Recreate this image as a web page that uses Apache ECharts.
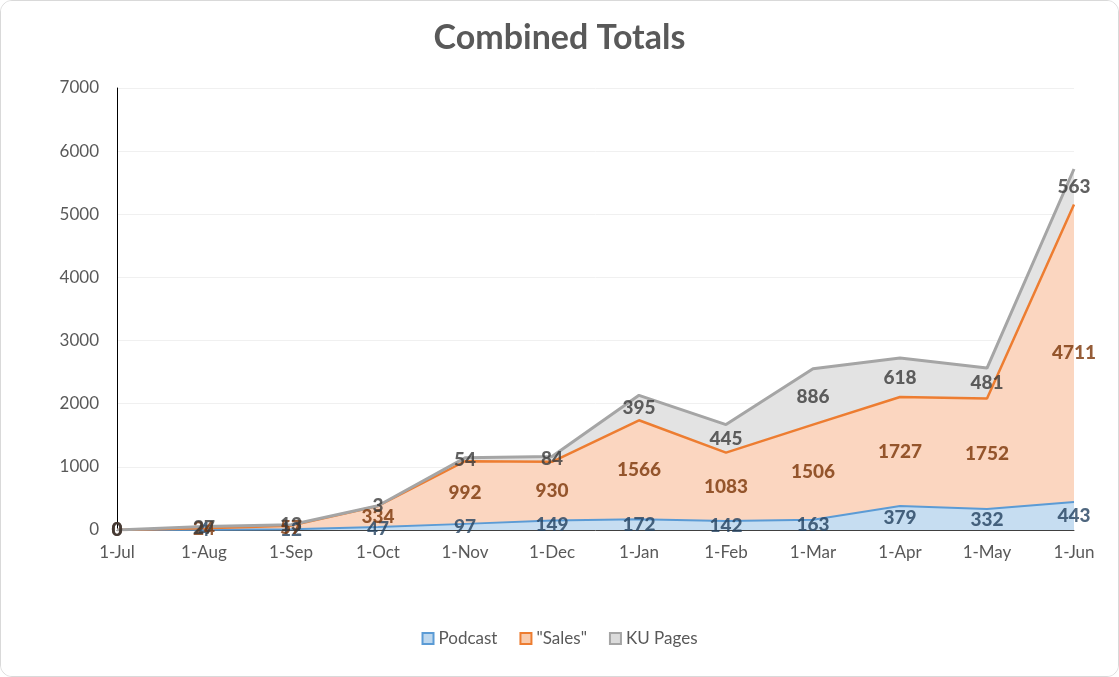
<!DOCTYPE html>
<html>
<head>
<meta charset="utf-8">
<script src="https://cdn.jsdelivr.net/npm/echarts@6/dist/echarts.min.js"></script>
<style>
html,body{margin:0;padding:0;background:#fff;}
#wrap{position:absolute;left:0;top:0;width:1117px;height:675px;border:1px solid #D9D9D9;border-radius:12px;overflow:hidden;}
#chart{width:1117px;height:675px;}
</style>
</head>
<body>
<div id="wrap"><div id="chart"></div></div>
<script>
const categories = ['1-Jul','1-Aug','1-Sep','1-Oct','1-Nov','1-Dec','1-Jan','1-Feb','1-Mar','1-Apr','1-May','1-Jun'];
const podcast = [0, 4, 12, 47, 97, 149, 172, 142, 163, 379, 332, 443];
const sales   = [0, 24, 57, 334, 992, 930, 1566, 1083, 1506, 1727, 1752, 4711];
const kuPages = [0, 27, 13, 3, 54, 84, 395, 445, 886, 618, 481, 563];
const yTicks = [0, 1000, 2000, 3000, 4000, 5000, 6000, 7000];

const FONT = 'Lato, "Open Sans", sans-serif';

// label anchor positions: middle of each stacked band
const podMid = podcast.map(v => v / 2);
const salesMid = sales.map((v, i) => podcast[i] + v / 2);
const kuMid = kuPages.map((v, i) => podcast[i] + sales[i] + v / 2);

function labelSeries(name, mids, raw, color) {
  return {
    name: name + '_lbl',
    type: 'scatter',
    data: mids,
    symbol: 'circle',
    symbolSize: 1,
    itemStyle: { color: 'rgba(0,0,0,0)' },
    silent: true,
    z: 10,
    label: {
      show: true,
      position: 'inside',
      formatter: p => String(raw[p.dataIndex]),
      color: color,
      fontFamily: FONT,
      fontWeight: 900,
      fontSize: 19
    }
  };
}

const chart = echarts.init(document.getElementById('chart'));
chart.setOption({
  animation: false,
  backgroundColor: '#fff',
  title: {
    text: 'Combined Totals',
    left: 'center',
    top: 15,
    textStyle: { fontFamily: FONT, fontSize: 34, fontWeight: 'bold', color: '#595959' }
  },
  legend: {
    data: ['Podcast', '"Sales"', 'KU Pages'],
    bottom: 24,
    left: 'center',
    icon: 'rect',
    itemWidth: 11,
    itemHeight: 11,
    itemGap: 22,
    textStyle: { fontFamily: FONT, fontSize: 17, color: '#595959' }
  },
  grid: { left: 116, right: 44, top: 87, bottom: 146 },
  xAxis: {
    type: 'category',
    data: categories,
    boundaryGap: false,
    axisLine: { show: true, lineStyle: { color: '#404040', width: 1 } },
    axisTick: { show: false },
    axisLabel: { fontFamily: FONT, fontSize: 17, color: '#595959', margin: 14 },
    splitLine: { show: false }
  },
  yAxis: {
    type: 'value',
    min: yTicks[0],
    max: yTicks[yTicks.length - 1],
    interval: 1000,
    axisLine: { show: true, lineStyle: { color: '#000', width: 1 } },
    axisTick: { show: false },
    axisLabel: { fontFamily: FONT, fontSize: 17, color: '#595959', margin: 18, formatter: v => String(v) },
    splitLine: { show: true, lineStyle: { color: '#F0F0F0', width: 1 } }
  },
  series: [
    {
      name: 'Podcast', type: 'line', stack: 'total', data: podcast,
      showSymbol: false, symbol: 'none',
      itemStyle: { color: '#BDD7EE', borderColor: '#5B9BD5', borderWidth: 2 },
      lineStyle: { color: '#5B9BD5', width: 2 },
      areaStyle: { color: '#C6DDF1', opacity: 1 }
    },
    {
      name: '"Sales"', type: 'line', stack: 'total', data: sales,
      showSymbol: false, symbol: 'none',
      itemStyle: { color: '#F8CBAD', borderColor: '#ED7D31', borderWidth: 2 },
      lineStyle: { color: '#ED7D31', width: 2.5 },
      areaStyle: { color: '#FBD6C0', opacity: 1 }
    },
    {
      name: 'KU Pages', type: 'line', stack: 'total', data: kuPages,
      showSymbol: false, symbol: 'none',
      itemStyle: { color: '#DBDBDB', borderColor: '#A5A5A5', borderWidth: 2 },
      lineStyle: { color: '#A5A5A5', width: 3 },
      areaStyle: { color: '#E3E3E3', opacity: 1 }
    },
    labelSeries('Podcast', podMid, podcast, '#23415F'),
    labelSeries('Sales', salesMid, sales, '#7A3406'),
    labelSeries('KU', kuMid, kuPages, '#3A3A3A')
  ]
});
</script>
</body>
</html>
